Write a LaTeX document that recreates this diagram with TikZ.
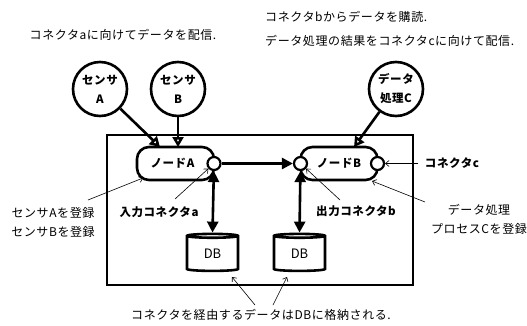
\documentclass[tikz,border=0pt]{standalone}
\usepackage{fontspec}
\setmainfont{Noto Sans CJK JP}[LetterSpace=5]
\newfontfamily\dbfont{Noto Sans CJK JP}
\usetikzlibrary{arrows.meta,shapes.geometric}
\begin{document}
\begin{tikzpicture}[x=1pt,y=-1pt,
  font=\fontsize{12}{19}\selectfont,
  sensor/.style={circle, draw, line width=2.6pt, minimum size=54pt, inner sep=0pt, font=\fontsize{11.5}{19}\selectfont\bfseries, align=center},
  nodebox/.style={draw, rounded corners=12pt, line width=2.6pt, minimum width=77pt, minimum height=33pt, inner sep=0pt, font=\fontsize{11.5}{14}\selectfont\bfseries},
  conn/.style={circle, draw, fill=white, line width=2.2pt, minimum size=13pt, inner sep=0pt},
  db/.style={cylinder, shape border rotate=90, draw, line width=2.6pt, aspect=0.22, minimum width=51pt, minimum height=37pt, inner sep=0pt, font=\dbfont\fontsize{13}{14}\selectfont},
  heavy/.style={line width=2.6pt, -{Triangle[length=11pt,width=11pt]}},
  dbl/.style={line width=2.6pt, {Triangle[length=11pt,width=11pt]}-{Triangle[length=11pt,width=11pt]}},
  hollow/.style={line width=2.6pt, -{Triangle[open,fill=white,length=10pt,width=11pt]}},
  thinarr/.style={line width=0.6pt, -{Straight Barb[length=3.5pt,width=6pt]}},
  lbl/.style={inner sep=0pt, align=center},
  blbl/.style={inner sep=0pt, align=center, font=\fontsize{11.5}{19}\selectfont\bfseries}]
\useasboundingbox (0,0) rectangle (527,325);

% frame
\node[draw, line width=2.8pt, minimum width=306pt, minimum height=150pt, inner sep=0pt] (frame) at (260,210) {};

% top texts
\node[lbl] (t1) at (123,35) {コネクタaに向けてデータを配信.};
\node[lbl, anchor=west] (t2) at (265,17) {コネクタbからデータを購読.};
\node[lbl, anchor=west] (t3) at (265,41) {データ処理の結果をコネクタcに向けて配信.};

% sensors
\node[sensor] (sA) at (100,89) {センサ\\A};
\node[sensor] (sB) at (178,89) {センサ\\B};
\node[sensor] (sC) at (396,89) {データ\\処理C};

% nodes
\node[nodebox] (nA) at (175.5,163.5) {\hspace*{-6pt}ノードA};
\node[nodebox] (nB) at (339,163.5) {ノードB};
\node[conn] (ca) at (214,163.5) {};
\node[conn] (cb) at (300.5,163.5) {};
\node[conn] (cc) at (377.5,163.5) {};

% DBs
\node[db] (db1) at (212.5,254) {DB};
\node[db] (db2) at (299.5,254) {DB};

% sensor arrows
\coordinate (inA) at (160,147);
\coordinate (inB) at (178,147);
\coordinate (inC) at (354,147);
\draw[hollow] (sA) -- (inA);
\draw[hollow] (sB) -- (inB);
\draw[hollow] (sC) -- (inC);

% data flow
\draw[heavy] (ca) -- (cb);
\draw[dbl] (ca) -- (db1.north);
\draw[dbl] (cb) -- (db2.north);

% labels
\node[blbl] (la) at (159,212) {入力コネクタa};
\node[blbl] (lb) at (356,211) {出力コネクタb};
\node[blbl] (lc) at (452,163.5) {コネクタc};
\node[lbl] (lp) at (479,219) {データ処理\\プロセスCを登録};
\node[lbl] (ls) at (53,222) {センサAを登録\\センサBを登録};
\node[lbl] (lbot) at (261,315) {コネクタを経由するデータはDBに格納される.};

\coordinate (ta) at (175,199);
\coordinate (tb) at (340,200);
\coordinate (tc) at (418,163.5);
\coordinate (tp) at (425,202);
\coordinate (ep) at (372,181);
\coordinate (ts) at (88,200);
\coordinate (es) at (143,178);
\coordinate (td1) at (255,305);
\coordinate (td2) at (273,305);
\coordinate (ed1) at (232,277);
\coordinate (ed2) at (287,277);

\draw[thinarr] (ta) -- (ca);
\draw[thinarr] (tb) -- (cb);
\draw[thinarr] (tc) -- (cc);
\draw[thinarr] (tp) -- (ep);
\draw[thinarr] (ts) -- (es);
\draw[thinarr] (td1) -- (ed1);
\draw[thinarr] (td2) -- (ed2);
\end{tikzpicture}
\end{document}
